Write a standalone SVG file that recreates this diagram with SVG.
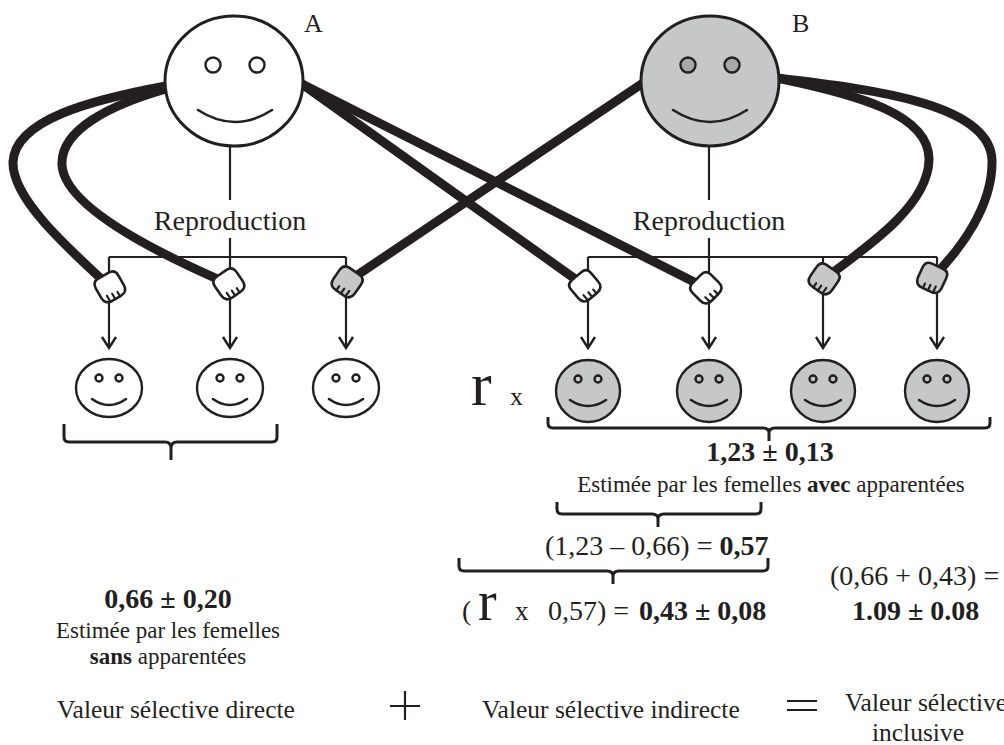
<svg xmlns="http://www.w3.org/2000/svg" width="1004" height="745" viewBox="0 0 1004 745">
  <style>
    .serif { font-family: "Liberation Serif", "Times New Roman", serif; fill: #231f20; }
    .b { font-weight: bold; }
    .thin { fill: none; stroke: #231f20; stroke-width: 2.2; }
    .arm { fill: none; stroke: #231f20; stroke-width: 9; stroke-linecap: butt; }
    .brace { fill: none; stroke: #231f20; stroke-width: 3; stroke-linejoin: round; }
    .head { stroke: #231f20; stroke-width: 3; }
    .kid { stroke: #231f20; stroke-width: 2.4; }
    .white { fill: #ffffff; }
    .grey { fill: #c6c7c9; }
    .eye { fill: none; stroke: #231f20; stroke-width: 2.4; }
    .eyeg { fill: #a7a8aa; stroke: #231f20; stroke-width: 2.4; }
    .smile { fill: none; stroke: #231f20; stroke-width: 2.6; stroke-linecap: round; }
  </style>
  <defs>
    <!-- clenched fist, wrist pointing up -->
    <g id="fist">
      <path d="M-13,-6 Q-13,-13 -6,-13 L6,-13 Q13,-13 13,-6 L13,5 Q13,13 5,13 L-5,13 Q-13,13 -13,5 Z" stroke="#231f20" stroke-width="2.6"/>
      <path d="M-7,13 L-7,6 M-1.5,13 L-1.5,7 M4,13 L4,8" fill="none" stroke="#231f20" stroke-width="2.2" stroke-linecap="round"/>
    </g>
    <!-- downward open arrowhead -->
    <path id="tip" d="M-7,-11 L0,0 L7,-11" fill="none" stroke="#231f20" stroke-width="2.4" stroke-linejoin="miter"/>
  </defs>

  <rect width="1004" height="745" fill="#ffffff"/>

  <!-- reproduction lines and arrows -->
  <g id="connectors">
    <g class="thin">
      <path d="M230,146 V200 M230,238 V257 M109,257 H346 M109,257 V346 M230,257 V346 M346,257 V346"/>
      <path d="M709,146 V200 M709,238 V257 M588,257 H937 M588,257 V346 M709,257 V346 M823,257 V346 M937,257 V346"/>
    </g>
    <use href="#tip" x="109" y="348"/>
    <use href="#tip" x="230" y="348"/>
    <use href="#tip" x="346" y="348"/>
    <use href="#tip" x="588" y="348"/>
    <use href="#tip" x="709" y="348"/>
    <use href="#tip" x="823" y="348"/>
    <use href="#tip" x="937" y="348"/>

    <!-- arms of A -->
    <path class="arm" d="M166,86 C90,100 15,120 13,162 C12,197 62,243 110,287"/>
    <path class="arm" d="M166,89 C110,105 60,130 62,165 C64,205 150,250 229,284"/>
    <path class="arm" d="M302,84 L585,286"/>
    <path class="arm" d="M302,84 L706,288"/>
    <!-- arms of B -->
    <path class="arm" d="M643,83 L347,282"/>
    <path class="arm" d="M777,78 C860,95 930,115 929,160 C928,205 870,245 824,279"/>
    <path class="arm" d="M777,78 C880,90 990,105 992,160 C993,205 962,248 932,278"/>
  </g>

  <!-- hands -->
  <g id="hands">
    <use href="#fist" class="white" transform="translate(110,287) rotate(-30)"/>
    <use href="#fist" class="white" transform="translate(229,284) rotate(-35)"/>
    <use href="#fist" class="grey" transform="translate(347,282) scale(-1,1) rotate(-35)"/>
    <use href="#fist" class="white" transform="translate(585,286) rotate(-40)"/>
    <use href="#fist" class="white" transform="translate(706,288) rotate(-45)"/>
    <use href="#fist" class="grey" transform="translate(824,279) scale(-1,1) rotate(-35)"/>
    <use href="#fist" class="grey" transform="translate(932,278) scale(-1,1) rotate(-25)"/>
  </g>

  <!-- female A -->
  <g id="femaleA">
    <ellipse class="head white" cx="234" cy="81" rx="69" ry="65"/>
    <circle class="eye" cx="213" cy="65" r="7.5"/>
    <circle class="eye" cx="257" cy="65" r="7.5"/>
    <path class="smile" d="M198,110 Q235,134 272,110"/>
    <text class="serif" x="304" y="32" font-size="26">A</text>
    <text class="serif" x="230" y="230" font-size="28" text-anchor="middle">Reproduction</text>
  </g>

  <!-- female B -->
  <g id="femaleB">
    <ellipse class="head grey" cx="710" cy="81" rx="69" ry="65"/>
    <circle class="eyeg" cx="688" cy="65" r="7.5"/>
    <circle class="eyeg" cx="732" cy="65" r="7.5"/>
    <path class="smile" d="M673,110 Q710,134 747,110"/>
    <text class="serif" x="792" y="32" font-size="26">B</text>
    <text class="serif" x="709" y="230" font-size="28" text-anchor="middle">Reproduction</text>
  </g>

  <!-- offspring of A -->
  <g id="offspringA">
    <g transform="translate(109,388)">
      <ellipse class="kid white" rx="33" ry="29"/>
      <circle class="eye" cx="-10" cy="-10" r="3.5" stroke-width="2"/>
      <circle class="eye" cx="10" cy="-10" r="3.5" stroke-width="2"/>
      <path class="smile" d="M-17,11 Q0,23 17,11" stroke-width="2.4"/>
    </g>
    <g transform="translate(230,388)">
      <ellipse class="kid white" rx="33" ry="29"/>
      <circle class="eye" cx="-10" cy="-10" r="3.5" stroke-width="2"/>
      <circle class="eye" cx="10" cy="-10" r="3.5" stroke-width="2"/>
      <path class="smile" d="M-17,11 Q0,23 17,11" stroke-width="2.4"/>
    </g>
    <g transform="translate(346,388)">
      <ellipse class="kid white" rx="33" ry="29"/>
      <circle class="eye" cx="-10" cy="-10" r="3.5" stroke-width="2"/>
      <circle class="eye" cx="10" cy="-10" r="3.5" stroke-width="2"/>
      <path class="smile" d="M-17,11 Q0,23 17,11" stroke-width="2.4"/>
    </g>
  </g>

  <!-- offspring of B -->
  <g id="offspringB">
    <g transform="translate(588,391)">
      <ellipse class="kid grey" rx="32" ry="31"/>
      <circle class="eye" cx="-10" cy="-12" r="3.5" stroke-width="2"/>
      <circle class="eye" cx="10" cy="-12" r="3.5" stroke-width="2"/>
      <path class="smile" d="M-18,9 Q0,21 18,9" stroke-width="2.4"/>
    </g>
    <g transform="translate(709,391)">
      <ellipse class="kid grey" rx="32" ry="31"/>
      <circle class="eye" cx="-10" cy="-12" r="3.5" stroke-width="2"/>
      <circle class="eye" cx="10" cy="-12" r="3.5" stroke-width="2"/>
      <path class="smile" d="M-18,9 Q0,21 18,9" stroke-width="2.4"/>
    </g>
    <g transform="translate(823,391)">
      <ellipse class="kid grey" rx="32" ry="31"/>
      <circle class="eye" cx="-10" cy="-12" r="3.5" stroke-width="2"/>
      <circle class="eye" cx="10" cy="-12" r="3.5" stroke-width="2"/>
      <path class="smile" d="M-18,9 Q0,21 18,9" stroke-width="2.4"/>
    </g>
    <g transform="translate(937,391)">
      <ellipse class="kid grey" rx="32" ry="31"/>
      <circle class="eye" cx="-10" cy="-12" r="3.5" stroke-width="2"/>
      <circle class="eye" cx="10" cy="-12" r="3.5" stroke-width="2"/>
      <path class="smile" d="M-18,9 Q0,21 18,9" stroke-width="2.4"/>
    </g>
    <text class="serif" x="471" y="405" font-size="62">r</text>
    <text class="serif" x="510" y="405" font-size="26">x</text>
  </g>

  <!-- direct fitness -->
  <g id="direct">
    <path class="brace" d="M64,424 V437 Q64,442 69,442 H165 Q171,442 171,448 V460 M171,448 Q171,442 177,442 H272 Q277,442 277,437 V424"/>
    <text class="serif b" x="168" y="608" font-size="28" text-anchor="middle">0,66 ± 0,20</text>
    <text class="serif" x="168" y="638" font-size="23" text-anchor="middle">Estimée par les femelles</text>
    <text class="serif" x="168" y="664" font-size="23" text-anchor="middle"><tspan class="b">sans</tspan> apparentées</text>
    <text class="serif" x="57" y="718" font-size="25.5">Valeur sélective directe</text>
  </g>

  <!-- indirect fitness -->
  <g id="indirect">
    <path class="brace" d="M548,417 V423 Q548,428 553,428 H763 Q769,428 769,433 V441 M769,433 Q769,428 775,428 H985 Q990,428 990,423 V417"/>
    <text class="serif b" x="770" y="461" font-size="28" text-anchor="middle">1,23 ± 0,13</text>
    <text class="serif" x="771" y="492" font-size="23" text-anchor="middle">Estimée par les femelles <tspan class="b">avec</tspan> apparentées</text>
    <path class="brace" d="M557,502 V509 Q557,514 562,514 H652 Q658,514 658,519 V527 M658,519 Q658,514 664,514 H756 Q761,514 761,509 V502"/>
    <text class="serif" x="545" y="555" font-size="28">(1,23 – 0,66) = <tspan class="b">0,57</tspan></text>
    <path class="brace" d="M459,558 V566 Q459,571 464,571 H607 Q613,571 613,576 V584 M613,576 Q613,571 619,571 H763 Q768,571 768,566 V558"/>
    <text class="serif" y="620" font-size="28"><tspan x="462">(</tspan><tspan x="478" font-size="56">r</tspan><tspan x="515" font-size="27">x</tspan><tspan x="548">0,57) = </tspan><tspan class="b" x="639">0,43 ± 0,08</tspan></text>
    <text class="serif" x="482" y="718" font-size="25.5">Valeur sélective indirecte</text>
  </g>

  <!-- inclusive fitness -->
  <g id="inclusive">
    <text class="serif" x="830" y="585" font-size="28">(0,66 + 0,43) =</text>
    <text class="serif b" x="852" y="620" font-size="28">1.09 ± 0.08</text>
    <text class="serif" x="845" y="711" font-size="25.5">Valeur sélective</text>
    <text class="serif" x="918" y="741" font-size="25.5" text-anchor="middle">inclusive</text>
  </g>

  <!-- operators -->
  <g id="operators" class="thin">
    <path d="M390,706 H420 M405,691 V720"/>
    <path d="M787,701 H817 M787,710 H817"/>
  </g>
</svg>
